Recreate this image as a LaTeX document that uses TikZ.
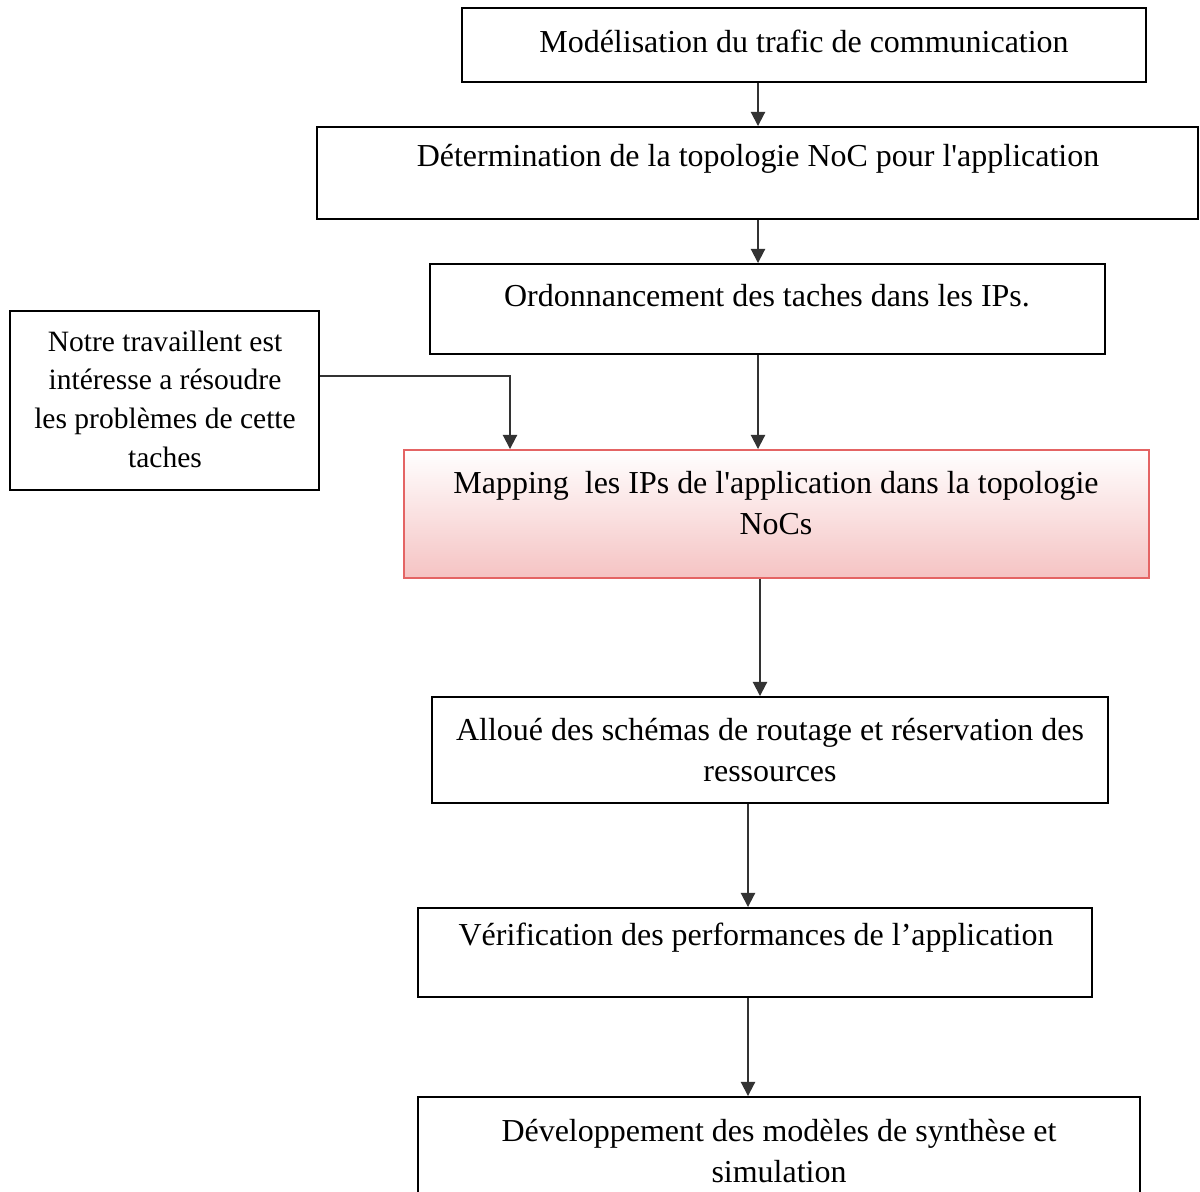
\documentclass[tikz,border=0pt]{standalone}
\usepackage{fontspec}
\setmainfont{Liberation Serif}
\usepackage{xcolor}
\usetikzlibrary{positioning, arrows.meta, calc}
\definecolor{mapborder}{RGB}{228,100,100}
\definecolor{mapbottom}{RGB}{245,195,195}

\begin{document}
\begin{tikzpicture}[
  x=0.02cm, y=-0.02cm,
  >={Triangle[length=8pt, width=8pt]},
  stepbox/.style={draw, line width=1.1pt, minimum width=13.5cm,
    minimum height=1.8cm, inner sep=0pt},
  mapbox/.style={stepbox, draw=mapborder, top color=white,
    bottom color=mapbottom},
  steptext/.style={align=center, font=\fontsize{18.2}{23}\selectfont,
    inner sep=0pt},
  notetext/.style={steptext, font=\fontsize{16.8}{22}\selectfont},
  arrow/.style={->, line width=1.1pt, color=black!80},
]
\useasboundingbox (0, 0) rectangle (1200, 1192);
\clip (0, 0) rectangle (1200, 1192);

% ===== MAIN COLUMN =====
\node[stepbox, minimum width=13.68cm, minimum height=1.48cm]
  (model) at (804, 45) {};
\node[steptext] (modeltxt) at (804, 41) {Modélisation du trafic de communication};

\node[stepbox, minimum width=17.62cm, minimum height=1.84cm]
  (topo) at (757.5, 173) {};
\node[steptext] (topotxt) at (758, 159)
  {Détermination de la topologie NoC pour l\textquotesingle application};

\node[stepbox, minimum width=13.5cm, minimum height=1.8cm]
  (ordo) at (767.5, 309) {};
\node[steptext] (ordotxt) at (767, 296) {Ordonnancement des taches dans les IPs.};

\node[mapbox, minimum width=14.9cm, minimum height=2.56cm]
  (mapping) at (776.5, 514) {};
\node[steptext] (mappingtxt) at (776, 503)
  {Mapping\ \ les IPs de l\textquotesingle application dans la topologie\\NoCs};

\node[stepbox, minimum width=13.52cm, minimum height=2.12cm]
  (alloc) at (770, 750) {};
\node[steptext] (alloctxt) at (770, 750)
  {Alloué des schémas de routage et réservation des\\ressources};

\node[stepbox, minimum width=13.48cm, minimum height=1.78cm]
  (verif) at (755, 952.5) {};
\node[steptext] (veriftxt) at (756, 938)
  {Vérification des performances de l’application};

\node[stepbox, minimum width=14.44cm, minimum height=2.06cm]
  (devel) at (779, 1148.5) {};
\node[steptext] (develtxt) at (779, 1151)
  {Développement des modèles de synthèse et\\simulation};

% ===== LEFT NOTE =====
\node[stepbox, minimum width=6.18cm, minimum height=3.58cm]
  (note) at (164.5, 400.5) {};
\node[notetext] (notetxt) at (165, 399)
  {Notre travaillent est\\intéresse a résoudre\\les problèmes de cette\\taches};

% Arrows
\draw[arrow] (model.south -| 758, 0) -- (topo.north -| 758, 0);
\draw[arrow] (topo.south -| 758, 0) -- (ordo.north -| 758, 0);
\draw[arrow] (ordo.south -| 758, 0) -- (mapping.north -| 758, 0);
\draw[arrow] (note.east |- 0, 376) -| (mapping.north -| 510, 0);
\draw[arrow] (mapping.south -| 760, 0) -- (alloc.north -| 760, 0);
\draw[arrow] (alloc.south -| 748, 0) -- (verif.north -| 748, 0);
\draw[arrow] (verif.south -| 748, 0) -- (devel.north -| 748, 0);

\end{tikzpicture}
\end{document}
